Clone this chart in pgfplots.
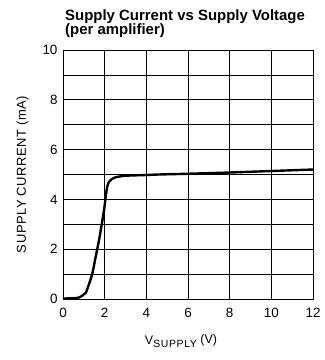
\documentclass[border=0pt]{standalone}
\usepackage{pgfplots}
\pgfplotsset{compat=1.18}
\usepackage{fontspec}
\setmainfont{Liberation Sans}
\begin{document}
\begin{tikzpicture}[x=1bp,y=1bp]
\begin{axis}[
  scale only axis, width=250bp, height=249bp,
  at={(0,0)}, anchor=south west,
  xmin=0, xmax=12, ymin=0, ymax=10,
  xtick={0,2,...,12}, ytick={0,2,...,10},
  minor ytick={1,3,5,7,9},
  grid=both,
  major grid style={black, line width=0.7bp},
  minor grid style={black, line width=0.7bp},
  axis line style={black, line width=0.9bp},
  tick style={draw=none},
  /pgf/number format/assume math mode=true,
  tick label style={font=\fontsize{13.5}{15}\selectfont},
  yticklabel style={xshift=-2bp},
  xticklabel style={yshift=-6bp},
  ylabel={SUPPLY CURRENT (mA)},
  ylabel style={font=\fontsize{13}{15}\selectfont\addfontfeature{LetterSpace=4}, at={(rel axis cs:0,0.5)}, anchor=center, yshift=40.5bp},
  xlabel={V\raisebox{-3bp}{\fontsize{10.5}{12}\selectfont\addfontfeature{LetterSpace=6}SUPPLY}\ \raisebox{1.5bp}{(V)}},
  xlabel style={font=\fontsize{12.5}{14}\selectfont, at={(rel axis cs:0.5,0)}, anchor=center, yshift=-42bp, xshift=-7bp},
]
\addplot[black, line width=2.4bp, smooth, tension=0.5] coordinates {
(0,0.02) (0.5,0.03) (0.77,0.06) (0.95,0.15) (1.09,0.25) (1.25,0.6) (1.41,1.03) (1.57,1.7) (1.73,2.37) (1.85,2.95) (1.97,3.57) (2.05,4.1) (2.12,4.5) (2.21,4.71) (2.35,4.82) (2.53,4.89) (3.01,4.95) (4.0,4.98) (4.6,5.0) (6,5.03) (8,5.08) (10,5.14) (12,5.2)
};
\end{axis}
\node[anchor=base west, font=\bfseries\fontsize{15}{17}\selectfont, inner sep=0] at (2bp,278.5bp) {Supply Current vs Supply Voltage};
\node[anchor=base west, font=\bfseries\fontsize{15}{17}\selectfont, inner sep=0] at (2bp,264.5bp) {(per amplifier)};
\pgfresetboundingbox
\path (-63bp,-61bp) rectangle (262bp,299bp);
\end{tikzpicture}
\end{document}
